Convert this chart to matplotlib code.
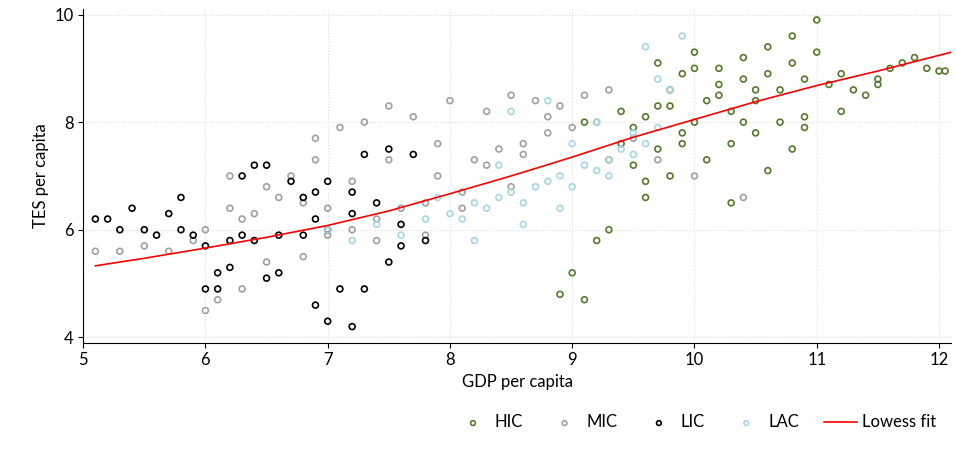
import matplotlib.pyplot as plt
import numpy as np

plt.rcParams['font.family'] = ['Lato', 'DejaVu Sans']

# point estimates (a sample of the dense clouds)
hic_x = [8.9, 9.0, 9.1, 9.2, 9.3, 9.3, 9.4, 9.5, 9.5, 9.6, 9.6, 9.7, 9.7, 9.8, 9.8, 9.9, 9.9, 10.0,
         10.0, 10.1, 10.1, 10.2, 10.2, 10.3, 10.3, 10.4, 10.4, 10.5, 10.5, 10.6, 10.6, 10.7, 10.7, 10.8,
         10.8, 10.9, 10.9, 11.0, 11.0, 11.1, 11.2, 11.3, 11.4, 11.5, 11.6, 11.7, 11.8, 11.9, 12.0, 12.05,
         9.6, 9.9, 10.3, 10.6, 10.9, 10.2, 9.4, 9.1, 9.8, 10.5, 11.2, 10.8, 10.0, 9.7, 10.4, 11.5]
hic_y = [4.8, 5.2, 4.7, 5.8, 6.0, 7.3, 7.6, 7.9, 7.2, 8.1, 6.9, 7.5, 8.3, 7.0, 8.6, 7.8, 8.9, 8.0,
         9.3, 8.4, 7.3, 8.7, 9.0, 8.2, 7.6, 8.8, 9.2, 8.4, 7.8, 8.9, 9.4, 8.6, 8.0, 9.1,
         9.6, 8.8, 8.1, 9.3, 9.9, 8.7, 8.9, 8.6, 8.5, 8.8, 9.0, 9.1, 9.2, 9.0, 8.95, 8.95,
         6.6, 7.6, 6.5, 7.1, 7.9, 8.5, 8.2, 8.0, 8.3, 8.6, 8.2, 7.5, 9.0, 9.1, 8.0, 8.7]
mic_x = [5.1, 5.3, 5.5, 5.7, 5.9, 6.0, 6.1, 6.2, 6.3, 6.4, 6.5, 6.6, 6.7, 6.8, 6.9, 7.0, 7.1, 7.2,
         7.3, 7.4, 7.5, 7.6, 7.7, 7.8, 7.9, 8.0, 8.1, 8.2, 8.3, 8.4, 8.5, 8.6, 8.7, 8.8, 8.9, 9.0,
         9.1, 9.2, 9.3, 9.5, 9.7, 10.0, 10.4, 6.0, 6.3, 6.8, 7.2, 7.5, 7.9, 8.3, 8.6, 7.0, 6.5, 7.8,
         8.1, 8.8, 6.2, 6.9, 7.4, 8.5]
mic_y = [5.6, 5.6, 5.7, 5.6, 5.8, 4.5, 4.7, 6.4, 4.9, 6.3, 5.4, 6.6, 7.0, 5.5, 7.3, 5.9, 7.9, 6.0,
         8.0, 6.2, 8.3, 6.4, 8.1, 6.5, 7.0, 8.4, 6.7, 7.3, 8.2, 7.5, 8.5, 7.6, 8.4, 7.8, 8.3, 7.9,
         8.5, 8.0, 8.6, 7.7, 7.3, 7.0, 6.6, 6.0, 6.2, 6.5, 6.9, 7.3, 7.6, 7.2, 7.4, 6.4, 6.8, 5.9,
         6.4, 8.1, 7.0, 7.7, 5.8, 6.8]
lic_x = [5.1, 5.2, 5.3, 5.4, 5.5, 5.6, 5.7, 5.8, 5.9, 6.0, 6.0, 6.1, 6.2, 6.2, 6.3, 6.4, 6.5, 6.5,
         6.6, 6.7, 6.8, 6.9, 6.9, 7.0, 7.0, 7.1, 7.2, 7.2, 7.3, 7.4, 7.5, 7.6, 7.7, 7.8, 6.1, 6.4,
         6.8, 7.0, 7.2, 7.5, 5.8, 6.6, 7.3, 6.9, 7.6, 6.3]
lic_y = [6.2, 6.2, 6.0, 6.4, 6.0, 5.9, 6.3, 6.6, 5.9, 5.7, 4.9, 4.9, 5.8, 5.3, 7.0, 5.8, 7.2, 5.1,
         5.9, 6.9, 5.9, 4.6, 6.7, 4.3, 6.9, 4.9, 6.7, 4.2, 7.4, 6.5, 7.5, 6.1, 7.4, 5.8, 5.2, 7.2,
         6.6, 6.0, 6.3, 5.4, 6.0, 5.2, 4.9, 6.2, 5.7, 5.9]
lac_x = [7.0, 7.2, 7.4, 7.6, 7.8, 8.0, 8.1, 8.2, 8.3, 8.4, 8.5, 8.6, 8.7, 8.8, 8.9, 9.0, 9.1,
         9.2, 9.3, 9.4, 9.5, 9.6, 9.7, 9.8, 9.9, 8.5, 8.8, 9.0, 9.3, 9.6, 8.2, 7.9, 8.6, 9.2, 9.5,
         8.9, 8.4, 9.7]
lac_y = [6.0, 5.8, 6.1, 5.9, 6.2, 6.3, 6.2, 6.5, 6.4, 6.6, 6.7, 6.5, 6.8, 6.9, 7.0, 6.8, 7.2,
         7.1, 7.3, 7.5, 7.4, 7.6, 7.9, 8.6, 9.6, 8.2, 8.4, 7.6, 7.0, 9.4, 5.8, 6.6, 6.1, 8.0, 7.8,
         6.4, 7.2, 8.8]
fit_x = [5.1, 5.5, 6.0, 6.5, 7.0, 7.5, 8.0, 8.5, 9.0, 9.5, 10.0, 10.5, 11.0, 11.5, 12.1]
fit_y = [5.33, 5.47, 5.66, 5.86, 6.08, 6.35, 6.67, 7.00, 7.35, 7.72, 8.05, 8.38, 8.68, 8.95, 9.30]

fig, ax = plt.subplots(figsize=(9.56, 4.57), dpi=100)
fig.subplots_adjust(left=0.087, right=0.995, top=0.98, bottom=0.25)

kw = dict(s=18, facecolors='none', linewidths=1.2)
ax.scatter(hic_x, hic_y, edgecolors='#55792a', label='HIC', **kw)
ax.scatter(mic_x, mic_y, edgecolors='#a0a0a0', label='MIC', **kw)
ax.scatter(lic_x, lic_y, edgecolors='black', label='LIC', **kw)
ax.scatter(lac_x, lac_y, edgecolors='#a6d6e4', label='LAC', **kw)
ax.plot(fit_x, fit_y, color='red', lw=1.2, label='Lowess fit')

ax.set_xlim(5, 12.1)
ax.set_ylim(3.9, 10.1)
ax.set_xticks(range(5, 13))
ax.set_yticks([4, 6, 8, 10])
ax.grid(color='#dddddd', linestyle=':', lw=0.8)
ax.set_axisbelow(True)
for s in ['top', 'right']:
    ax.spines[s].set_visible(False)
ax.tick_params(labelsize=12)
ax.set_xlabel('GDP per capita', fontsize=12)
ax.set_ylabel('TES per capita', fontsize=12)
ax.legend(loc='upper right', bbox_to_anchor=(1.0, -0.17), ncol=5, frameon=False,
          fontsize=12, handletextpad=0.3, columnspacing=1.5, markerscale=0.8)

plt.savefig('out.png', dpi=100)
